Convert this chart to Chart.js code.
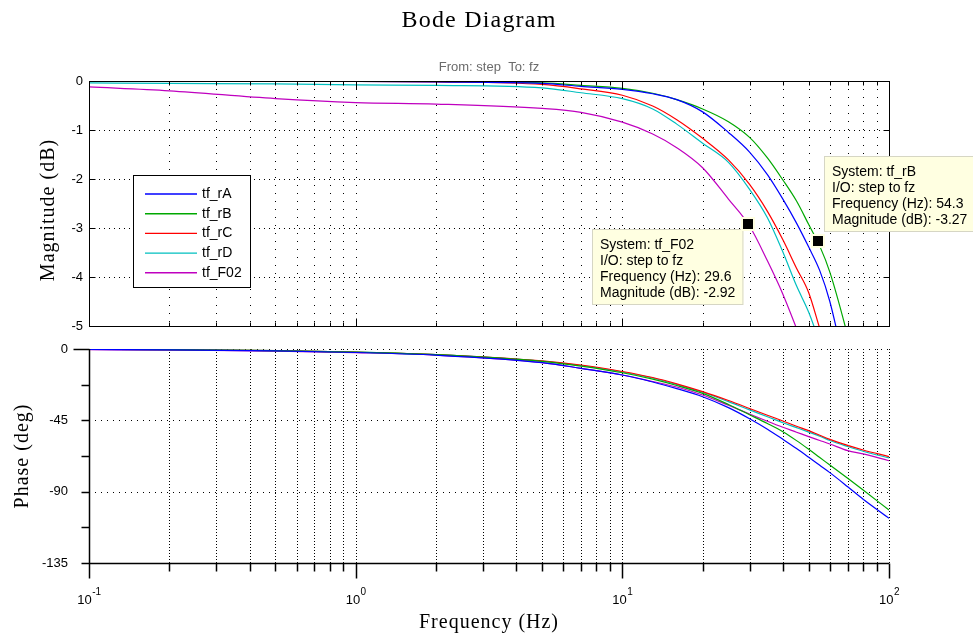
<!DOCTYPE html>
<html>
<head>
<meta charset="utf-8">
<title>Bode Diagram</title>
<script src="https://cdn.jsdelivr.net/npm/chart.js@4.4.1/dist/chart.umd.min.js"></script>
<style>
    html, body { margin: 0; padding: 0; background: #fff; }
    #wrap { position: relative; width: 973px; height: 637px; overflow: hidden; }
    #wrap canvas { position: absolute; left: 0; }
    #magChart { top: 0; }
    #phaseChart { top: 340px; }
</style>
</head>
<body>
<div id="wrap">
    <canvas id="magChart" width="973" height="340"></canvas>
    <canvas id="phaseChart" width="973" height="297"></canvas>
</div>
<script>
// Values
const freqHz = [0.1, 0.2, 0.5, 1, 2, 5, 7, 10, 13, 16, 20, 25, 30, 35, 40, 45, 50, 55, 60, 70, 80, 100];

const seriesNames = ['tf_rA', 'tf_rB', 'tf_rC', 'tf_rD', 'tf_F02'];

// Magnitude (dB)
const magRA  = [0, 0, -0.01, -0.01, -0.02, -0.05, -0.11, -0.17, -0.26, -0.38, -0.63, -1.05, -1.45, -1.91, -2.41, -2.90, -3.39, -3.87, -4.50, -6.1, -7.5, -10];
const magRB  = [0, 0, 0, 0, -0.01, -0.04, -0.09, -0.15, -0.25, -0.38, -0.57, -0.83, -1.15, -1.57, -2.02, -2.45, -2.93, -3.37, -3.90, -5.2, -6.5, -9];
const magRC  = [0, 0, -0.01, -0.01, -0.02, -0.07, -0.16, -0.29, -0.51, -0.79, -1.17, -1.61, -2.11, -2.66, -3.24, -3.82, -4.32, -5.05, -5.7, -7, -8.2, -10.5];
const magRD  = [-0.04, -0.05, -0.06, -0.08, -0.09, -0.14, -0.24, -0.36, -0.57, -0.88, -1.27, -1.66, -2.21, -2.79, -3.49, -4.18, -4.72, -5.35, -6.0, -7.3, -8.5, -11];
const magF02 = [-0.12, -0.20, -0.36, -0.44, -0.47, -0.56, -0.64, -0.84, -1.08, -1.36, -1.77, -2.41, -2.96, -3.67, -4.35, -5.05, -5.7, -6.3, -7, -8, -9, -11];

// Phase (deg)
const phaseRA  = [-0.3, -0.5, -1.2, -2.2, -3.9, -8.6, -12.2, -16.4, -20.8, -25, -30.1, -37, -44, -50.6, -57.0, -62.8, -68.3, -73.4, -78.0, -86.9, -94.8, -106.8];
const phaseRB  = [-0.2, -0.4, -1.0, -2.0, -3.6, -7.8, -10.8, -15.0, -19, -23, -28, -35, -41.5, -47, -52.2, -57.8, -63.3, -68.5, -73.2, -81.6, -89.0, -101.6];
const phaseRC  = [-0.2, -0.4, -1.0, -2.0, -3.5, -7.5, -10.1, -14.2, -18, -22, -26.9, -32.5, -37.5, -41.8, -45.4, -48.7, -51.5, -54.4, -57.0, -60.8, -63.7, -67.9];
const phaseRD  = [-0.2, -0.4, -1.0, -2.0, -3.6, -7.7, -10.4, -14.5, -18.3, -22.4, -27.3, -33.2, -38.4, -42.7, -46.5, -49.6, -52.4, -55, -57.7, -61.5, -64.5, -68.7];
const phaseF02 = [-0.4, -0.7, -1.3, -2.3, -3.9, -8.6, -12.2, -16.4, -20.5, -24, -29, -35.5, -41, -45.6, -49.4, -52.5, -55.3, -57.7, -59.9, -64.1, -66.2, -70.5];

// Axis ticks
const magTicks = [-5, -4, -3, -2, -1, 0];
const phaseTicks = [-135, -90, -45, 0];
const xTickExponents = [-1, 0, 1, 2];

// Data tips shown on the magnitude plot
const tipSystems = ['tf_F02', 'tf_rB'];
const tipFreq = [29.6, 54.3];
const tipMag = [-2.92, -3.27];

const magData = [magRA, magRB, magRC, magRD, magF02];
const phaseData = [phaseRA, phaseRB, phaseRC, phaseRD, phaseF02];

// ---- styling ----
const seriesColors = ['#0000ff', '#00a800', '#ff0000', '#00bfbf', '#bf00bf'];
const tipPlacement = ['below-left', 'above-right'];
const sansFont = '"Liberation Sans", Arial, Helvetica, sans-serif';
const serifFont = '"Liberation Serif", "Times New Roman", serif';

// minor log grid positions: 1..9 x each decade, plus the last edge
const gridFreqs = [];
for (let d = xTickExponents[0]; d < xTickExponents[xTickExponents.length - 1]; d++) {
    for (let m = 1; m <= 9; m++) gridFreqs.push(m * Math.pow(10, d));
}
gridFreqs.push(Math.pow(10, xTickExponents[xTickExponents.length - 1]));

const crisp = (v) => Math.round(v) + 0.5;
const isDecade = (f) => Math.abs(Math.log10(f) - Math.round(Math.log10(f))) < 1e-9;

function line(ctx, x1, y1, x2, y2) {
    ctx.beginPath();
    ctx.moveTo(x1, y1);
    ctx.lineTo(x2, y2);
    ctx.stroke();
}

function setSpacing(ctx, px) {
    if ('letterSpacing' in ctx) ctx.letterSpacing = px;
}

function drawRotated(ctx, text, baseX, cy, font) {
    ctx.save();
    ctx.translate(baseX, cy);
    ctx.rotate(-Math.PI / 2);
    ctx.font = font;
    setSpacing(ctx, '1px');
    ctx.fillStyle = '#000';
    ctx.textAlign = 'center';
    ctx.textBaseline = 'alphabetic';
    ctx.fillText(text, 0, 0);
    ctx.restore();
}

function buildDatasets(values) {
    return seriesNames.map((name, i) => ({
        label: name,
        data: freqHz.map((f, j) => ({ x: f, y: values[i][j] })),
        borderColor: seriesColors[i],
        backgroundColor: seriesColors[i],
        borderWidth: 1.2,
        pointRadius: 0,
        cubicInterpolationMode: 'monotone',
        fill: false
    }));
}

// labelGap is the space between the label's right edge and the axis line;
// it is passed as the (undrawn) tick length so it doesn't pad the chart area
function baseOptions(ticks, padding, labelGap) {
    return {
        responsive: false,
        animation: false,
        events: [],
        layout: { padding: padding },
        plugins: { legend: { display: false }, tooltip: { enabled: false }, title: { display: false } },
        scales: {
            x: { type: 'logarithmic', min: Math.pow(10, xTickExponents[0]), max: Math.pow(10, xTickExponents[xTickExponents.length - 1]), display: false },
            y: {
                min: Math.min(...ticks),
                max: Math.max(...ticks),
                grid: { display: false, drawTicks: true, tickLength: labelGap },
                border: { display: false },
                afterFit: (scale) => { scale.width = 89; },
                ticks: {
                    stepSize: ticks[1] - ticks[0],
                    padding: 0,
                    color: '#000',
                    font: { family: sansFont, size: 13 }
                }
            }
        }
    };
}

function drawLegend(ctx, left, top) {
    const w = 117, h = 112;
    ctx.setLineDash([]);
    ctx.fillStyle = '#fff';
    ctx.fillRect(left, top, w, h);
    ctx.strokeStyle = '#000';
    ctx.lineWidth = 1;
    ctx.strokeRect(left + 0.5, top + 0.5, w, h);
    ctx.font = '14px ' + sansFont;
    ctx.textAlign = 'left';
    ctx.textBaseline = 'middle';
    seriesNames.forEach((name, i) => {
        const yy = top + 19 + i * 19.7;
        ctx.strokeStyle = seriesColors[i];
        ctx.lineWidth = 1.4;
        line(ctx, left + 12, yy, left + 64, yy);
        ctx.fillStyle = '#000';
        ctx.fillText(name, left + 69, yy);
    });
}

function drawDataTip(ctx, mx, my, lines, placement) {
    ctx.font = '14px ' + sansFont;
    const w = Math.max(...lines.map(t => ctx.measureText(t).width)) + 16;
    const h = lines.length * 16 + 12;
    let bx, by;
    if (placement === 'below-left') {
        bx = mx - 5 - w;
        by = my + 5;
    } else {
        bx = mx + 6;
        by = my - 9 - h;
    }
    bx = Math.round(bx);
    by = Math.round(by);
    ctx.setLineDash([]);
    ctx.fillStyle = '#ffffe1';
    ctx.fillRect(bx, by, w, h);
    ctx.strokeStyle = '#d6d6c4';
    ctx.lineWidth = 1;
    ctx.strokeRect(bx + 0.5, by + 0.5, w - 1, h - 1);
    ctx.fillStyle = '#000';
    ctx.textAlign = 'left';
    ctx.textBaseline = 'middle';
    lines.forEach((t, i) => ctx.fillText(t, bx + 8, by + 16 + i * 16));

    // marker
    ctx.fillStyle = '#ffffe1';
    ctx.fillRect(Math.round(mx) - 7, Math.round(my) - 7, 14, 14);
    ctx.fillStyle = '#000';
    ctx.fillRect(Math.round(mx) - 5, Math.round(my) - 5, 10, 10);
}

function drawPowerLabel(ctx, exp, cx, baseY) {
    const baseFont = '13px ' + sansFont;
    const expFont = '10px ' + sansFont;
    ctx.font = baseFont;
    const wBase = ctx.measureText('10').width;
    ctx.font = expFont;
    const wExp = ctx.measureText(String(exp)).width;
    const x0 = cx - (wBase + wExp) / 2;
    ctx.fillStyle = '#000';
    ctx.textAlign = 'left';
    ctx.textBaseline = 'alphabetic';
    ctx.font = baseFont;
    ctx.fillText('10', x0, baseY);
    ctx.font = expFont;
    ctx.fillText(String(exp), x0 + wBase + 0.5, baseY - 9);
}

// Grid, frame, legend and data tips for the magnitude axes
const magDecor = {
    id: 'magDecor',
    beforeDatasetsDraw(chart) {
        const { ctx, chartArea: a, scales: { x, y } } = chart;
        ctx.save();
        ctx.strokeStyle = '#000';
        ctx.lineWidth = 1;
        ctx.setLineDash([1, 7]);
        gridFreqs.forEach(f => {
            const px = crisp(x.getPixelForValue(f));
            if (px <= a.left + 1 || px >= a.right - 1) return;
            line(ctx, px, a.top, px, a.bottom);
        });
        ctx.setLineDash([1, 4]);
        magTicks.forEach(v => {
            const py = crisp(y.getPixelForValue(v));
            if (py <= a.top + 1 || py >= a.bottom - 1) return;
            line(ctx, a.left, py, a.right, py);
        });
        ctx.restore();
    },
    afterDatasetsDraw(chart) {
        const { ctx, chartArea: a, scales: { x, y } } = chart;
        ctx.save();
        ctx.setLineDash([]);
        ctx.strokeStyle = '#000';
        ctx.lineWidth = 1;
        const l = Math.round(a.left) + 0.5, r = Math.round(a.right) + 0.5;
        const t = Math.round(a.top) + 0.5, b = Math.round(a.bottom) + 0.5;
        ctx.strokeRect(l, t, r - l, b - t);

        // ticks point inward
        magTicks.forEach(v => {
            const py = crisp(y.getPixelForValue(v));
            line(ctx, l, py, l + 6, py);
            line(ctx, r - 6, py, r, py);
        });
        gridFreqs.forEach(f => {
            const px = crisp(x.getPixelForValue(f));
            const len = isDecade(f) ? 8 : 4;
            line(ctx, px, b, px, b - len);
            line(ctx, px, t, px, t + len);
        });

        drawLegend(ctx, Math.round(a.left) + 44, Math.round(a.top) + 94);

        tipSystems.forEach((name, i) => {
            const mx = x.getPixelForValue(tipFreq[i]);
            const my = y.getPixelForValue(tipMag[i]);
            drawDataTip(ctx, mx, my, [
                'System: ' + name,
                'I/O: step to fz',
                'Frequency (Hz): ' + tipFreq[i],
                'Magnitude (dB): ' + tipMag[i].toFixed(2)
            ], tipPlacement[i]);
        });

        // titles
        ctx.fillStyle = '#000';
        ctx.textAlign = 'center';
        ctx.textBaseline = 'alphabetic';
        ctx.font = '24px ' + serifFont;
        setSpacing(ctx, '1.2px');
        ctx.fillText('Bode Diagram', 479, 27);
        setSpacing(ctx, '0px');
        ctx.font = '13px ' + sansFont;
        ctx.fillStyle = '#6b6b6b';
        ctx.fillText('From: step  To: fz', 489, 71);

        drawRotated(ctx, 'Magnitude (dB)', 54, 210, '20px ' + serifFont);
        ctx.restore();
    }
};

// Grid, axes and labels for the phase axes
const phaseDecor = {
    id: 'phaseDecor',
    beforeDatasetsDraw(chart) {
        const { ctx, chartArea: a, scales: { x, y } } = chart;
        ctx.save();
        ctx.strokeStyle = '#000';
        ctx.lineWidth = 1;
        ctx.setLineDash([1, 2]);
        gridFreqs.forEach(f => {
            const px = crisp(x.getPixelForValue(f));
            if (px <= a.left + 1) return;
            line(ctx, px, a.top, px, a.bottom);
        });
        ctx.setLineDash([1, 5]);
        phaseTicks.forEach(v => {
            const py = crisp(y.getPixelForValue(v));
            line(ctx, a.left, py, a.right, py);
        });
        ctx.restore();
    },
    afterDatasetsDraw(chart) {
        const { ctx, chartArea: a, scales: { x, y } } = chart;
        ctx.save();
        ctx.setLineDash([]);
        ctx.strokeStyle = '#000';
        ctx.lineWidth = 1.5;
        const l = Math.round(a.left) + 0.5, b = Math.round(a.bottom) + 0.5;
        line(ctx, l, a.top, l, b);
        line(ctx, l, b, a.right, b);

        // outward ticks
        phaseTicks.forEach((v, i) => {
            const py = crisp(y.getPixelForValue(v));
            line(ctx, l - (v === 0 ? 16 : 8), py, l, py);
            if (i > 0) {
                const mid = crisp(y.getPixelForValue((v + phaseTicks[i - 1]) / 2));
                line(ctx, l - 8, mid, l, mid);
            }
        });
        gridFreqs.forEach(f => {
            const px = crisp(x.getPixelForValue(f));
            line(ctx, px, b, px, b + (isDecade(f) ? 15 : 8));
        });

        xTickExponents.forEach(e => {
            drawPowerLabel(ctx, e, x.getPixelForValue(Math.pow(10, e)), Math.round(a.bottom) + 41);
        });

        ctx.fillStyle = '#000';
        ctx.textAlign = 'center';
        ctx.textBaseline = 'alphabetic';
        ctx.font = '20px ' + serifFont;
        setSpacing(ctx, '1px');
        ctx.fillText('Frequency (Hz)', 489, Math.round(a.bottom) + 65);
        setSpacing(ctx, '0px');

        drawRotated(ctx, 'Phase (deg)', 28, (a.top + a.bottom) / 2, '20px ' + serifFont);
        ctx.restore();
    }
};

class BodePage {
    constructor() {
        this.initMagnitude();
        this.initPhase();
    }

    // Upper axes: magnitude
    initMagnitude() {
        const canvas = document.getElementById('magChart');
        if (!canvas) return;
        new Chart(canvas.getContext('2d'), {
            type: 'line',
            data: { datasets: buildDatasets(magData) },
            options: baseOptions(magTicks, { left: 0, right: 84, top: 81, bottom: 14 }, 6),
            plugins: [magDecor]
        });
    }

    // Lower axes: phase
    initPhase() {
        const canvas = document.getElementById('phaseChart');
        if (!canvas) return;
        new Chart(canvas.getContext('2d'), {
            type: 'line',
            data: { datasets: buildDatasets(phaseData) },
            options: baseOptions(phaseTicks, { left: 0, right: 84, top: 9, bottom: 74 }, 21),
            plugins: [phaseDecor]
        });
    }
}

new BodePage();
</script>
</body>
</html>
